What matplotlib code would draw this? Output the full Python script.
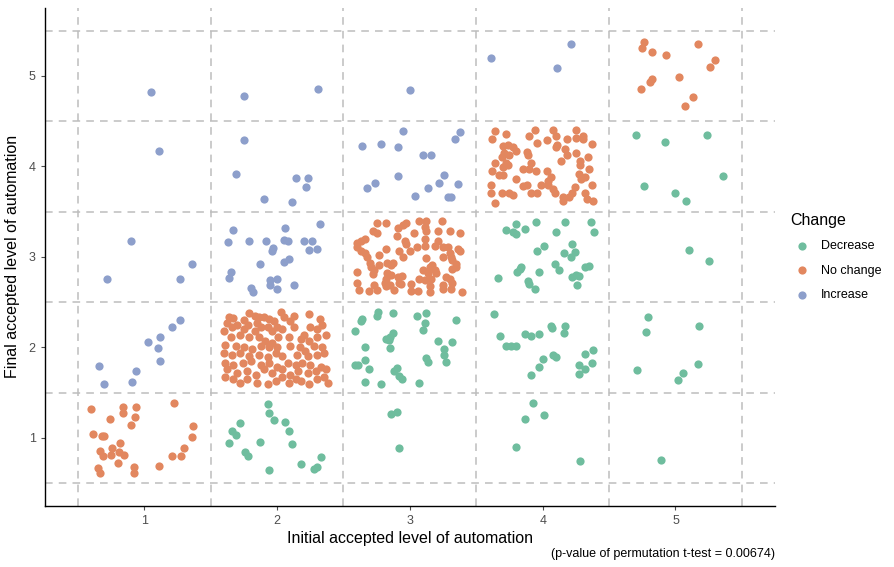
import numpy as np
import matplotlib.pyplot as plt

plt.rcParams['font.family'] = ['Liberation Sans', 'DejaVu Sans']

# jittered (initial, final) automation levels per respondent, grouped by change
increase = [
    (1.05, 4.82), (1.11, 4.17), (0.90, 3.18), (0.72, 2.76), (1.27, 2.76), (1.36, 2.92),
    (1.27, 2.30), (1.21, 2.22), (1.12, 2.12), (1.03, 2.06), (1.10, 1.99), (1.12, 1.85),
    (0.66, 1.79), (0.94, 1.74), (0.70, 1.60), (0.91, 1.62),
    (1.75, 4.78), (2.31, 4.85), (1.75, 4.29), (1.69, 3.92), (2.14, 3.87), (2.23, 3.87),
    (2.22, 3.77), (1.90, 3.64), (2.11, 3.61),
    (1.67, 3.30), (2.32, 3.36), (2.06, 3.32), (1.63, 3.16), (1.79, 3.17), (1.92, 3.17),
    (2.05, 3.19), (2.08, 3.17), (2.20, 3.18), (2.26, 3.18), (1.97, 3.10), (1.96, 3.07),
    (2.24, 3.08), (2.30, 3.09), (2.09, 2.98), (2.05, 2.94), (1.87, 2.92), (1.65, 2.83),
    (1.64, 2.77), (2.00, 2.76), (1.95, 2.74), (1.95, 2.69), (2.13, 2.69), (1.80, 2.66),
    (1.82, 2.61), (2.00, 2.64),
    (3.00, 4.84), (2.95, 4.39), (3.38, 4.38), (3.34, 4.30), (2.64, 4.23), (2.78, 4.25),
    (2.91, 4.21), (3.10, 4.12), (3.16, 4.13), (2.91, 3.89), (3.26, 3.90), (2.74, 3.82),
    (2.68, 3.76), (3.14, 3.76), (3.22, 3.82), (3.36, 3.81), (3.04, 3.67), (3.29, 3.66),
    (3.31, 3.66),
    (3.61, 5.20), (4.21, 5.35), (4.11, 5.09),
]

no_change = [
    # 1 -> 1
    (0.60, 1.32), (0.84, 1.34), (0.94, 1.34), (0.84, 1.28), (1.22, 1.39), (0.74, 1.21),
    (0.93, 1.23), (0.90, 1.14), (1.37, 1.13), (0.61, 1.04), (0.68, 1.02), (0.70, 1.02),
    (1.36, 1.01), (0.76, 0.89), (0.82, 0.94), (0.67, 0.86), (0.81, 0.84), (0.85, 0.81),
    (0.75, 0.81), (0.69, 0.80), (1.30, 0.89), (1.21, 0.80), (1.28, 0.80), (0.80, 0.72),
    (0.65, 0.67), (0.92, 0.68), (1.11, 0.69), (0.67, 0.61), (0.92, 0.61),
    # 2 -> 2
    (1.64, 2.34), (1.67, 2.32), (1.79, 2.38), (1.83, 2.35), (1.86, 2.33), (1.90, 2.34),
    (1.94, 2.31), (2.03, 2.39), (2.05, 2.34), (2.13, 2.35), (2.24, 2.37), (2.32, 2.31),
    (1.85, 2.27), (1.75, 2.30), (1.62, 2.27), (1.98, 2.29), (2.10, 2.29),
    (1.60, 2.18), (1.66, 2.22), (1.70, 2.25), (1.75, 2.20), (1.78, 2.25), (1.83, 2.18),
    (1.88, 2.23), (1.93, 2.22), (1.96, 2.18), (2.00, 2.23), (2.04, 2.20), (2.13, 2.22),
    (2.20, 2.14), (2.25, 2.23), (2.30, 2.20), (2.34, 2.25),
    (1.65, 2.12), (1.72, 2.14), (1.79, 2.11), (1.86, 2.11), (1.91, 2.07), (1.96, 2.05),
    (2.01, 2.11), (2.09, 2.12), (2.18, 2.09), (2.24, 2.07), (2.30, 2.12), (2.37, 2.14),
    (1.61, 2.03), (1.69, 2.01), (1.75, 2.00), (1.81, 1.98), (1.88, 2.01), (1.94, 2.00),
    (2.00, 2.00), (2.10, 2.01), (2.17, 2.00), (2.21, 1.96), (2.28, 2.01), (2.34, 2.00),
    (1.60, 1.94), (1.66, 1.92), (1.72, 1.94), (1.79, 1.90), (1.86, 1.92), (1.93, 1.89),
    (1.99, 1.94), (2.04, 1.90), (2.15, 1.92), (2.23, 1.90), (2.30, 1.92), (2.35, 1.94),
    (1.61, 1.83), (1.67, 1.80), (1.74, 1.83), (1.80, 1.85), (1.88, 1.81), (1.94, 1.83),
    (2.00, 1.78), (2.08, 1.83), (2.14, 1.80), (2.19, 1.83), (2.25, 1.81), (2.33, 1.78),
    (1.62, 1.76), (1.70, 1.72), (1.77, 1.74), (1.84, 1.70), (1.90, 1.76), (1.96, 1.72),
    (2.04, 1.76), (2.10, 1.70), (2.16, 1.74), (2.23, 1.72), (2.29, 1.74), (2.37, 1.76),
    (1.61, 1.67), (1.67, 1.65), (1.72, 1.61), (1.77, 1.65), (1.85, 1.61), (1.93, 1.60),
    (1.99, 1.63), (2.04, 1.67), (2.09, 1.61), (2.14, 1.65), (2.18, 1.63), (2.24, 1.60),
    (2.30, 1.65), (2.35, 1.67), (2.38, 1.61),
    # 3 -> 3
    (2.75, 3.37), (2.82, 3.37), (2.91, 3.32), (2.95, 3.35), (2.97, 3.37), (3.07, 3.40),
    (3.12, 3.40), (3.11, 3.33), (3.24, 3.40), (3.12, 3.29), (3.21, 3.29), (3.30, 3.29),
    (3.38, 3.26), (2.72, 3.29), (2.75, 3.26), (3.03, 3.26), (2.90, 3.23), (2.66, 3.20),
    (2.63, 3.18), (2.60, 3.15), (2.60, 3.11), (2.96, 3.18), (2.97, 3.14), (3.05, 3.11),
    (3.11, 3.20), (3.11, 3.12), (3.19, 3.12), (3.21, 3.18), (3.25, 3.11), (3.29, 3.11),
    (3.36, 3.09), (3.38, 3.06), (2.82, 3.09), (2.63, 3.06), (2.66, 3.04), (2.68, 3.00),
    (2.77, 3.02), (2.92, 3.07), (2.95, 3.00), (3.00, 3.06), (3.12, 2.99), (3.25, 3.00),
    (3.30, 3.04), (3.31, 3.00), (3.32, 2.96), (3.35, 2.92), (3.35, 2.89), (2.70, 2.93),
    (2.71, 2.89), (2.77, 2.91), (2.83, 2.93), (2.86, 2.91), (2.87, 2.93), (3.10, 2.86),
    (3.15, 2.89), (3.17, 2.91), (3.19, 2.86), (3.14, 2.82), (3.20, 2.82), (3.32, 2.87),
    (2.73, 2.86), (2.60, 2.83), (2.72, 2.81), (2.83, 2.82), (2.86, 2.80), (2.91, 2.78),
    (2.94, 2.79), (2.82, 2.75), (2.81, 2.71), (2.85, 2.69), (2.92, 2.71), (2.93, 2.70),
    (3.11, 2.74), (3.16, 2.75), (3.07, 2.75), (3.27, 2.78), (3.30, 2.75), (2.60, 2.71),
    (2.73, 2.69), (2.82, 2.68), (3.01, 2.70), (3.15, 2.68), (3.25, 2.69), (3.32, 2.71),
    (2.62, 2.63), (2.69, 2.62), (2.75, 2.63), (2.88, 2.63), (3.01, 2.62), (3.06, 2.62),
    (3.15, 2.61), (3.25, 2.64), (3.31, 2.64), (3.39, 2.61),
    # 4 -> 4
    (3.64, 4.39), (3.72, 4.36), (3.94, 4.40), (4.08, 4.40), (4.25, 4.40), (3.90, 4.33),
    (3.96, 4.26), (4.03, 4.29), (4.10, 4.34), (4.11, 4.24), (4.18, 4.30), (4.25, 4.31),
    (4.30, 4.33), (4.30, 4.30), (4.37, 4.25), (3.62, 4.30), (3.70, 4.23), (3.74, 4.24),
    (3.78, 4.21), (3.80, 4.17), (3.88, 4.16), (3.89, 4.12), (3.75, 4.12), (3.71, 4.15),
    (3.69, 4.10), (3.72, 4.04), (3.74, 4.01), (3.70, 3.99), (3.64, 4.04), (3.67, 3.90),
    (3.70, 3.90), (3.62, 3.95), (3.85, 3.97), (3.90, 3.97), (3.91, 4.04), (3.95, 3.95),
    (4.03, 3.95), (4.06, 3.88), (4.04, 3.84), (4.14, 4.06), (4.18, 4.12), (4.25, 4.15),
    (4.28, 4.06), (4.28, 4.02), (4.34, 4.10), (4.35, 3.97), (4.27, 3.91), (4.29, 3.86),
    (4.32, 3.88), (4.37, 3.79), (3.80, 3.86), (3.61, 3.79), (3.61, 3.70), (3.69, 3.71),
    (3.75, 3.71), (3.78, 3.68), (3.85, 3.78), (3.88, 3.79), (3.91, 3.71), (3.96, 3.71),
    (3.99, 3.79), (4.04, 3.79), (4.08, 3.75), (4.09, 3.70), (4.15, 3.66), (4.15, 3.62),
    (4.20, 3.66), (4.22, 3.71), (4.24, 3.77), (4.32, 3.71), (4.33, 3.64), (4.38, 3.62),
    (3.64, 3.60), (4.10, 4.21), (4.17, 4.19),
    # 5 -> 5
    (4.76, 5.37), (4.75, 5.31), (4.82, 5.26), (4.93, 5.23), (5.17, 5.35), (5.30, 5.18),
    (5.26, 5.10), (5.03, 4.99), (4.82, 4.97), (4.81, 4.93), (4.74, 4.85), (5.13, 4.77),
    (5.07, 4.67),
]

decrease = [
    # 2 -> 1
    (1.93, 1.37), (1.94, 1.28), (1.98, 1.20), (2.06, 1.18), (1.72, 1.16), (1.66, 1.08),
    (1.69, 1.03), (2.09, 1.08), (1.64, 0.94), (1.87, 0.95), (2.11, 0.93), (1.76, 0.84),
    (1.78, 0.80), (2.33, 0.79), (2.18, 0.71), (2.30, 0.68), (2.28, 0.66), (1.94, 0.65),
    # 3 -> 2, 3 -> 1
    (2.76, 2.39), (2.75, 2.35), (2.87, 2.38), (3.05, 2.35), (3.12, 2.38), (3.11, 2.27),
    (3.10, 2.19), (3.35, 2.30), (2.64, 2.31), (2.63, 2.29), (2.59, 2.18), (2.87, 2.16),
    (2.85, 2.11), (2.82, 2.09), (2.84, 2.08), (2.66, 2.00), (2.85, 1.99), (3.21, 2.07),
    (3.32, 2.06), (3.26, 1.98), (3.26, 1.92), (3.27, 1.84), (3.12, 1.88), (3.14, 1.84),
    (2.66, 1.86), (2.61, 1.81), (2.59, 1.80), (2.69, 1.76), (2.90, 1.77), (2.88, 1.74),
    (2.92, 1.68), (2.94, 1.65), (2.66, 1.62), (2.78, 1.60), (3.07, 1.61),
    (2.90, 1.29), (2.86, 1.26), (2.92, 0.89),
    # 4 -> 3, 2, 1
    (3.72, 3.30), (3.80, 3.36), (3.78, 3.28), (3.80, 3.25), (3.87, 3.31), (3.95, 3.39),
    (4.10, 3.28), (4.17, 3.38), (4.36, 3.39), (4.39, 3.27), (3.96, 3.07), (4.01, 3.12),
    (4.22, 3.14), (4.16, 3.04), (4.24, 3.05), (4.21, 3.00), (4.09, 2.92), (4.12, 2.85),
    (3.84, 2.89), (3.83, 2.87), (3.81, 2.83), (3.97, 2.83), (4.32, 2.89), (4.35, 2.90),
    (3.66, 2.77), (4.22, 2.78), (4.25, 2.80), (4.27, 2.79), (3.89, 2.73), (3.90, 2.70),
    (4.26, 2.69), (3.94, 2.64),
    (3.63, 2.37), (3.68, 2.13), (3.72, 2.01), (3.76, 2.01), (3.80, 2.01), (3.87, 2.15),
    (3.91, 2.13), (3.97, 2.15), (4.06, 2.24), (4.07, 2.21), (4.17, 2.24), (4.16, 2.16),
    (4.08, 1.92), (4.10, 1.89), (4.00, 1.87), (3.97, 1.78), (3.91, 1.70), (4.32, 1.93),
    (4.38, 1.97), (4.37, 1.83), (4.27, 1.81), (4.32, 1.76), (4.27, 1.71),
    (3.93, 1.39), (3.87, 1.21), (4.01, 1.25), (3.80, 0.90), (4.28, 0.74),
    # 5 -> 4, 3, 2, 1
    (4.70, 4.35), (4.92, 4.27), (5.24, 4.35), (5.36, 3.89), (4.76, 3.78), (5.00, 3.71),
    (5.08, 3.62), (5.10, 3.08), (5.25, 2.95),
    (4.79, 2.33), (4.78, 2.17), (5.18, 2.24), (4.71, 1.75), (5.17, 1.82), (5.06, 1.72),
    (5.02, 1.64), (4.89, 0.76),
]

levels = [1, 2, 3, 4, 5]
groups = ['Decrease', 'No change', 'Increase']
colors = ['#6fbd9e', '#e2875f', '#8d9fcb']

fig, ax = plt.subplots(figsize=(8.94, 5.67), dpi=100)
fig.subplots_adjust(left=0.05, right=0.867, bottom=0.108, top=0.986)

# dashed cell borders between the levels
for b in np.arange(0.5, 6, 1.0):
    ax.axvline(b, color='#bdbdbd', ls=(0, (5, 4)), lw=1.1, zorder=1)
    ax.axhline(b, color='#bdbdbd', ls=(0, (5, 4)), lw=1.1, zorder=1)

for name, pts, c in zip(groups, [decrease, no_change, increase], colors):
    pts = np.array(pts)
    ax.scatter(pts[:, 0], pts[:, 1], s=35, color=c, linewidths=0, label=name, zorder=3)

ax.set_xlim(0.25, 5.75)
ax.set_ylim(0.25, 5.75)
ax.set_xticks(levels)
ax.set_yticks(levels)
ax.tick_params(colors='#4d4d4d', labelsize=9, length=3, width=0.8)
for lab in ax.get_xticklabels() + ax.get_yticklabels():
    lab.set_color('#4d4d4d')
for s in ['top', 'right']:
    ax.spines[s].set_visible(False)
for s in ['left', 'bottom']:
    ax.spines[s].set_linewidth(1.0)
    ax.spines[s].set_color('black')

ax.set_xlabel('Initial accepted level of automation', fontsize=11.5, labelpad=3)
ax.set_ylabel('Final accepted level of automation', fontsize=11.5, labelpad=6)

leg = ax.legend(title='Change', loc='center left', bbox_to_anchor=(1.005, 0.5),
                frameon=False, fontsize=9, title_fontsize=11.5, markerscale=1.0,
                handletextpad=0.5, labelspacing=1.0)
leg._legend_box.align = 'left'

fig.text(0.867, 0.012, '(p-value of permutation t-test = 0.00674)',
         ha='right', va='bottom', fontsize=9)

fig.savefig('out.png', dpi=100)
